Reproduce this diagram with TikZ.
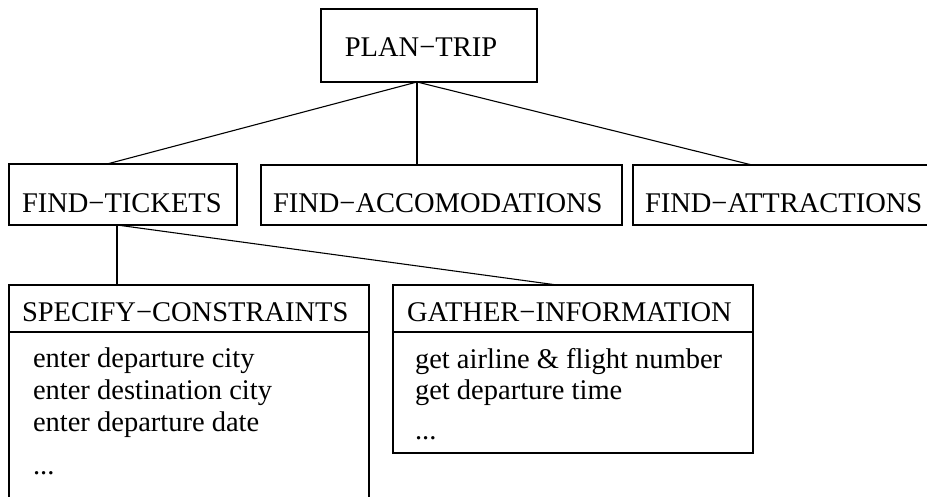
\documentclass[tikz,border=0pt]{standalone}
\usepackage{fontspec}
\setmainfont{Liberation Serif}
\begin{document}
\begin{tikzpicture}[x=1pt,y=-1pt,
  box/.style={draw, line width=1.1pt, inner sep=0pt, outer sep=0pt, anchor=north west},
  lbl/.style={inner sep=0pt, outer sep=0pt, anchor=base west,
              font=\fontsize{28.5}{31}\selectfont},
  link/.style={line width=1.1pt}]
\useasboundingbox (0,0) rectangle (927,497);
\clip (0,0) rectangle (927,497);

% task boxes
\node[box, minimum width=216pt, minimum height=73pt] (plan)    at (321,9)   {};
\node[box, minimum width=228pt, minimum height=61pt] (tickets) at (9,164)   {};
\node[box, minimum width=361pt, minimum height=60pt] (accom)   at (261,165) {};
\node[box, minimum width=310pt, minimum height=60pt] (attr)    at (633,165) {};
\node[box, minimum width=360pt, minimum height=240pt] (specify) at (9,285)  {};
\node[box, minimum width=360pt, minimum height=168pt] (gather)  at (393,285) {};

% header dividers of the two leaf boxes
\draw[link] ([yshift=-47pt]specify.north west) -- ([yshift=-47pt]specify.north east);
\draw[link] ([yshift=-47pt]gather.north west) -- ([yshift=-47pt]gather.north east);

% labels
\node[lbl, anchor=base] (tplan)    at (421,57)  {PLAN−TRIP};
\node[lbl] (ttickets) at (22,213)  {FIND−TICKETS};
\node[lbl] (taccom)   at (273,213) {FIND−ACCOMODATIONS};
\node[lbl] (tattr)    at (645,213) {FIND−ATTRACTIONS};
\node[lbl] (tspec)    at (22,322)  {SPECIFY−CONSTRAINTS};
\node[lbl] (tgath)    at (407,321) {GATHER−INFORMATION};

\node[lbl] (s1) at (33,367) {enter departure city};
\node[lbl] (s2) at (33,399) {enter destination city};
\node[lbl] (s3) at (33,431) {enter departure date};
\node[lbl] (s4) at (33,474) {...};

\node[lbl] (g1) at (415,368) {get airline \& flight number};
\node[lbl] (g2) at (415,399) {get departure time};
\node[lbl] (g3) at (415,439) {...};

% tree connectors
\coordinate (pj) at ([xshift=-12pt]plan.south);
\draw[link] (pj) -- ([xshift=98pt]tickets.north west);
\draw[link] (pj) -- (pj |- accom.north);
\draw[link] (pj) -- ([xshift=119pt]attr.north west);

\coordinate (tj) at ([xshift=108pt]tickets.south west);
\draw[link] (tj) -- (tj |- specify.north);
\draw[link] (tj) -- ([xshift=164pt]gather.north west);
\end{tikzpicture}
\end{document}
